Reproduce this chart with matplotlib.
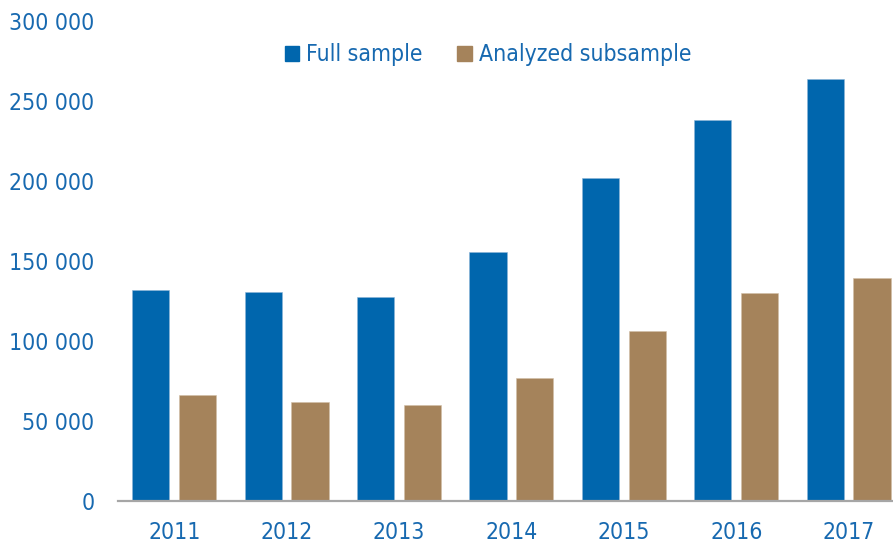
"""Full sample vs analyzed subsample, 2011-2017."""

import matplotlib.pyplot as plt
from matplotlib.patches import Patch
from matplotlib.ticker import FuncFormatter
import numpy as np

years = ["2011", "2012", "2013", "2014", "2015", "2016", "2017"]
full_sample = [131800, 130800, 127400, 155400, 202000, 238100, 264000]
analyzed_subsample = [65900, 61500, 60000, 76900, 106200, 130000, 139400]

BLUE = "#0066AD"
TAN = "#A5835B"
TEXT = "#1769B0"

plt.rcParams["font.family"] = ["DejaVu Sans"]
plt.rcParams["font.stretch"] = "condensed"

fig = plt.figure(figsize=(8.93, 5.44), dpi=100)
ax = fig.add_axes([118 / 893, 43.5 / 544, 1 - 118 / 893, (544 - 21.5 - 43.5) / 544])

x = np.arange(len(years))
w = 0.33
off = 0.208
ax.bar(x - off, full_sample, w, color=BLUE, edgecolor="#8db4d8", linewidth=0.4)
ax.bar(x + off, analyzed_subsample, w, color=TAN, edgecolor="#d2bfa8", linewidth=0.4)

ax.set_xlim(-0.5, -0.5 + 775 / 112.4)
ax.set_ylim(0, 300000)
ax.set_yticks(range(0, 300001, 50000))
ax.yaxis.set_major_formatter(FuncFormatter(lambda v, _: f"{int(v):,}".replace(",", " ")))
ax.set_xticks(x)
ax.set_xticklabels(years)

for s in ["top", "right", "left"]:
    ax.spines[s].set_visible(False)
ax.spines["bottom"].set_color("#A6A6A6")
ax.spines["bottom"].set_linewidth(1.6)

ax.tick_params(axis="y", length=0, pad=17, labelsize=16.5, labelcolor=TEXT)
ax.tick_params(axis="x", length=0, pad=14.5, labelsize=16.5, labelcolor=TEXT)

handles = [Patch(color=BLUE, label="Full sample"), Patch(color=TAN, label="Analyzed subsample")]
leg = ax.legend(handles=handles, loc="center", bbox_to_anchor=(488 / 893, 1 - 55 / 544),
                bbox_transform=fig.transFigure, ncol=2, frameon=False, fontsize=16.5,
                handlelength=0.65, handleheight=0.65, handletextpad=0.3, columnspacing=1.5)
for t in leg.get_texts():
    t.set_color(TEXT)

plt.savefig("out.png", dpi=100)
plt.close()
